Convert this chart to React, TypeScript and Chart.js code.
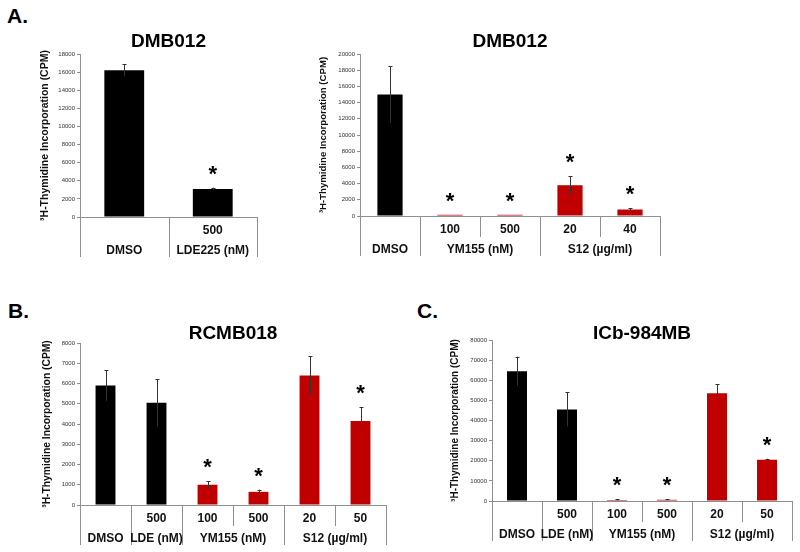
import React, { useEffect, useRef } from 'react';
import { Chart, registerables } from 'chart.js';

Chart.register(...registerables);

const FONT = 'Arial, "Liberation Sans", Helvetica, sans-serif';
const BLACK = '#000000';
const RED = '#C00000';
const AXIS = '#8f8f8f';
const Y_TITLE = '\u00B3H-Thymidine Incorporation (CPM)';

// ---------- Panel A (left): DMB012 ----------
const aLeftCategories = ['DMSO', 'LDE225 500 nM'];
const aLeftValues = [16200, 3100];
const aLeftErrors = [650, 140];
const aLeftStars = [false, true];
const aLeftColors = [BLACK, BLACK];
const aLeftDoses = ['', '500'];
const aLeftGroupNames = ['DMSO', 'LDE225 (nM)'];
const aLeftGroupSpans = [1, 1];

// ---------- Panel A (right): DMB012 ----------
const aRightCategories = ['DMSO', 'YM155 100 nM', 'YM155 500 nM', 'S12 20 µg/ml', 'S12 40 µg/ml'];
const aRightValues = [15000, 150, 150, 3800, 800];
const aRightErrors = [3500, 0, 0, 1100, 180];
const aRightStars = [false, true, true, true, true];
const aRightColors = [BLACK, RED, RED, RED, RED];
const aRightDoses = ['', '100', '500', '20', '40'];
const aRightGroupNames = ['DMSO', 'YM155 (nM)', 'S12 (µg/ml)'];
const aRightGroupSpans = [1, 2, 2];

// ---------- Panel B: RCMB018 ----------
const bCategories = ['DMSO', 'LDE 500 nM', 'YM155 100 nM', 'YM155 500 nM', 'S12 20 µg/ml', 'S12 50 µg/ml'];
const bValues = [5900, 5050, 1000, 650, 6400, 4150];
const bErrors = [750, 1170, 170, 110, 950, 670];
const bStars = [false, false, true, true, false, true];
const bColors = [BLACK, BLACK, RED, RED, RED, RED];
const bDoses = ['', '500', '100', '500', '20', '50'];
const bGroupNames = ['DMSO', 'LDE (nM)', 'YM155 (nM)', 'S12 (µg/ml)'];
const bGroupSpans = [1, 1, 2, 2];

// ---------- Panel C: ICb-984MB ----------
const cCategories = ['DMSO', 'LDE 500 nM', 'YM155 100 nM', 'YM155 500 nM', 'S12 20 µg/ml', 'S12 50 µg/ml'];
const cValues = [64500, 45500, 500, 600, 53500, 20500];
const cErrors = [7200, 8500, 300, 200, 4600, 500];
const cStars = [false, false, true, true, false, true];
const cColors = [BLACK, BLACK, RED, RED, RED, RED];
const cDoses = ['', '500', '100', '500', '20', '50'];
const cGroupNames = ['DMSO', 'LDE (nM)', 'YM155 (nM)', 'S12 (µg/ml)'];
const cGroupSpans = [1, 1, 2, 2];

type Rect = { x: number; y: number; w: number; h: number };
type Area = { left: number; right: number; top: number; bottom: number };

type PanelCfg = {
  title: string;
  categories: string[];
  values: number[];
  errors: number[];
  stars: boolean[];
  colors: string[];
  doses: string[];
  groupNames: string[];
  groupSpans: number[];
  yMax: number;
  yStep: number;
  canvas: Rect;
  area: Area;
  xAxisH: number;
  yTitleSize: number;
  yTitleCenter: number;
  titleCenterY: number;
  barFrac: number;
};

const annotatePlugin = {
  id: 'annotate',
  afterDatasetsDraw(chart: any, _args: any, opts: any) {
    const { ctx } = chart;
    const y = chart.scales.y;
    const meta = chart.getDatasetMeta(0);
    ctx.save();
    opts.values.forEach((v: number, i: number) => {
      const e = opts.errors[i];
      const bar = meta.data[i];
      const cx = Math.round(bar.x) + 0.5;
      const yTop = y.getPixelForValue(v + e);
      const yBot = y.getPixelForValue(Math.max(0, v - e));
      if (e > 0) {
        ctx.strokeStyle = '#333333';
        ctx.lineWidth = 1;
        ctx.beginPath();
        ctx.moveTo(cx, yTop);
        ctx.lineTo(cx, yBot);
        ctx.moveTo(cx - 2, Math.round(yTop) + 0.5);
        ctx.lineTo(cx + 2, Math.round(yTop) + 0.5);
        ctx.stroke();
      }
      if (opts.stars[i]) {
        ctx.fillStyle = '#000';
        ctx.font = `bold 22px ${FONT}`;
        ctx.textAlign = 'center';
        ctx.textBaseline = 'alphabetic';
        ctx.fillText('*', bar.x, yTop - 7);
      }
    });
    ctx.restore();
  },
  afterDraw(chart: any, _args: any, opts: any) {
    const { ctx, chartArea } = chart;
    const x = chart.scales.x;
    const n = opts.doses.length;
    const half = n > 1 ? (x.getPixelForValue(1) - x.getPixelForValue(0)) / 2 : (chartArea.right - chartArea.left) / 2;
    const edge = (i: number) => (i < n ? x.getPixelForValue(i) - half : x.getPixelForValue(n - 1) + half);
    const bottom = chartArea.bottom;
    const fullEnd = bottom + 40;
    const partEnd = bottom + 21;
    ctx.save();
    ctx.strokeStyle = AXIS;
    ctx.lineWidth = 1;
    const vline = (px: number, y1: number, y2: number) => {
      const xx = Math.round(px) + 0.5;
      ctx.beginPath();
      ctx.moveTo(xx, y1);
      ctx.lineTo(xx, y2);
      ctx.stroke();
    };
    vline(chartArea.left - 0.5, bottom, fullEnd);
    vline(edge(n), bottom, fullEnd);
    let idx = 0;
    ctx.fillStyle = '#111';
    ctx.textAlign = 'center';
    ctx.textBaseline = 'middle';
    ctx.font = `bold 12px ${FONT}`;
    opts.groupNames.forEach((name: string, g: number) => {
      const span = opts.groupSpans[g];
      const start = edge(idx);
      const end = edge(idx + span);
      for (let k = 1; k < span; k++) vline(edge(idx + k), bottom, partEnd);
      if (idx + span < n) vline(end, bottom, fullEnd);
      ctx.fillText(name, (start + end) / 2, bottom + 33.5);
      idx += span;
    });
    opts.doses.forEach((d: string, i: number) => {
      if (d) ctx.fillText(d, x.getPixelForValue(i), bottom + 13.5);
    });
    ctx.font = `bold 19px ${FONT}`;
    ctx.fillStyle = '#000';
    ctx.fillText(opts.title, (chartArea.left + chartArea.right) / 2, opts.titleY);
    ctx.restore();
  },
};

function Panel({ cfg }: { cfg: PanelCfg }) {
  const ref = useRef<HTMLCanvasElement | null>(null);
  useEffect(() => {
    if (!ref.current) return;
    const { canvas, area } = cfg;
    const yW = area.left - canvas.x;
    const padTop = area.top - canvas.y;
    const padRight = canvas.x + canvas.w - area.right;
    const padBottom = canvas.y + canvas.h - area.bottom - cfg.xAxisH;
    const lineH = cfg.yTitleSize * 1.2;
    const titlePadTop = cfg.yTitleCenter - canvas.x - lineH / 2;
    const chart = new Chart(ref.current, {
      type: 'bar',
      data: {
        labels: cfg.categories,
        datasets: [
          {
            data: cfg.values,
            backgroundColor: cfg.colors,
            borderWidth: 0,
            barPercentage: cfg.barFrac,
            categoryPercentage: 1,
          },
        ],
      },
      options: {
        animation: false,
        responsive: false,
        maintainAspectRatio: false,
        devicePixelRatio: 1,
        layout: { padding: { left: 0, top: padTop, right: padRight, bottom: padBottom } },
        plugins: {
          legend: { display: false },
          tooltip: { enabled: false },
          title: { display: false },
          annotate: {
            values: cfg.values,
            errors: cfg.errors,
            stars: cfg.stars,
            doses: cfg.doses,
            groupNames: cfg.groupNames,
            groupSpans: cfg.groupSpans,
            title: cfg.title,
            titleY: cfg.titleCenterY - canvas.y,
          },
        } as any,
        scales: {
          x: {
            type: 'category',
            offset: true,
            grid: { display: false },
            ticks: { display: false },
            border: { display: true, color: AXIS, width: 1 },
            afterFit: (s: any) => {
              s.height = cfg.xAxisH;
            },
          },
          y: {
            min: 0,
            max: cfg.yMax,
            ticks: {
              stepSize: cfg.yStep,
              autoSkip: false,
              color: '#333',
              padding: 2,
              font: { size: 6, family: FONT },
              callback: (v: any) => String(v),
            },
            grid: { display: true, drawOnChartArea: false, drawTicks: true, tickLength: 3, color: AXIS },
            border: { display: true, color: AXIS, width: 1 },
            title: {
              display: true,
              text: Y_TITLE,
              color: '#111',
              font: { size: cfg.yTitleSize, weight: 'bold', family: FONT },
              padding: { top: titlePadTop, bottom: 0 },
            },
            afterFit: (s: any) => {
              s.width = yW;
            },
          },
        },
      } as any,
      plugins: [annotatePlugin as any],
    });
    return () => chart.destroy();
  }, [cfg]);
  const { canvas } = cfg;
  return (
    <canvas
      ref={ref}
      width={canvas.w}
      height={canvas.h}
      style={{ position: 'absolute', left: canvas.x, top: canvas.y, width: canvas.w, height: canvas.h }}
    />
  );
}

const panels: PanelCfg[] = [
  {
    title: 'DMB012',
    categories: aLeftCategories,
    values: aLeftValues,
    errors: aLeftErrors,
    stars: aLeftStars,
    colors: aLeftColors,
    doses: aLeftDoses,
    groupNames: aLeftGroupNames,
    groupSpans: aLeftGroupSpans,
    yMax: 18000,
    yStep: 2000,
    canvas: { x: 0, y: 25, w: 270, h: 240 },
    area: { left: 80, right: 257, top: 54, bottom: 217 },
    xAxisH: 45,
    yTitleSize: 10.5,
    yTitleCenter: 45,
    titleCenterY: 42,
    barFrac: 0.45,
  },
  {
    title: 'DMB012',
    categories: aRightCategories,
    values: aRightValues,
    errors: aRightErrors,
    stars: aRightStars,
    colors: aRightColors,
    doses: aRightDoses,
    groupNames: aRightGroupNames,
    groupSpans: aRightGroupSpans,
    yMax: 20000,
    yStep: 2000,
    canvas: { x: 270, y: 25, w: 400, h: 240 },
    area: { left: 360, right: 660, top: 54, bottom: 216 },
    xAxisH: 45,
    yTitleSize: 9.6,
    yTitleCenter: 323,
    titleCenterY: 42,
    barFrac: 0.42,
  },
  {
    title: 'RCMB018',
    categories: bCategories,
    values: bValues,
    errors: bErrors,
    stars: bStars,
    colors: bColors,
    doses: bDoses,
    groupNames: bGroupNames,
    groupSpans: bGroupSpans,
    yMax: 8000,
    yStep: 1000,
    canvas: { x: 0, y: 300, w: 400, h: 252 },
    area: { left: 80, right: 386, top: 343, bottom: 505 },
    xAxisH: 44,
    yTitleSize: 10.3,
    yTitleCenter: 47,
    titleCenterY: 333.5,
    barFrac: 0.39,
  },
  {
    title: 'ICb-984MB',
    categories: cCategories,
    values: cValues,
    errors: cErrors,
    stars: cStars,
    colors: cColors,
    doses: cDoses,
    groupNames: cGroupNames,
    groupSpans: cGroupSpans,
    yMax: 80000,
    yStep: 10000,
    canvas: { x: 400, y: 300, w: 400, h: 252 },
    area: { left: 492, right: 792, top: 340, bottom: 501 },
    xAxisH: 45,
    yTitleSize: 10,
    yTitleCenter: 455,
    titleCenterY: 333.5,
    barFrac: 0.4,
  },
];

const labelStyle = (left: number, top: number): React.CSSProperties => ({
  position: 'absolute',
  left,
  top,
  font: `bold 21px ${FONT}`,
  lineHeight: '21px',
  color: '#000',
  margin: 0,
});

export default function App() {
  return (
    <div style={{ position: 'fixed', left: 0, top: 0, width: 800, height: 552, background: '#fff', overflow: 'hidden' }}>
      <div style={labelStyle(7, 5)}>A.</div>
      <div style={labelStyle(8, 300)}>B.</div>
      <div style={labelStyle(417, 300)}>C.</div>
      {panels.map((p, i) => (
        <Panel key={i} cfg={p} />
      ))}
    </div>
  );
}
